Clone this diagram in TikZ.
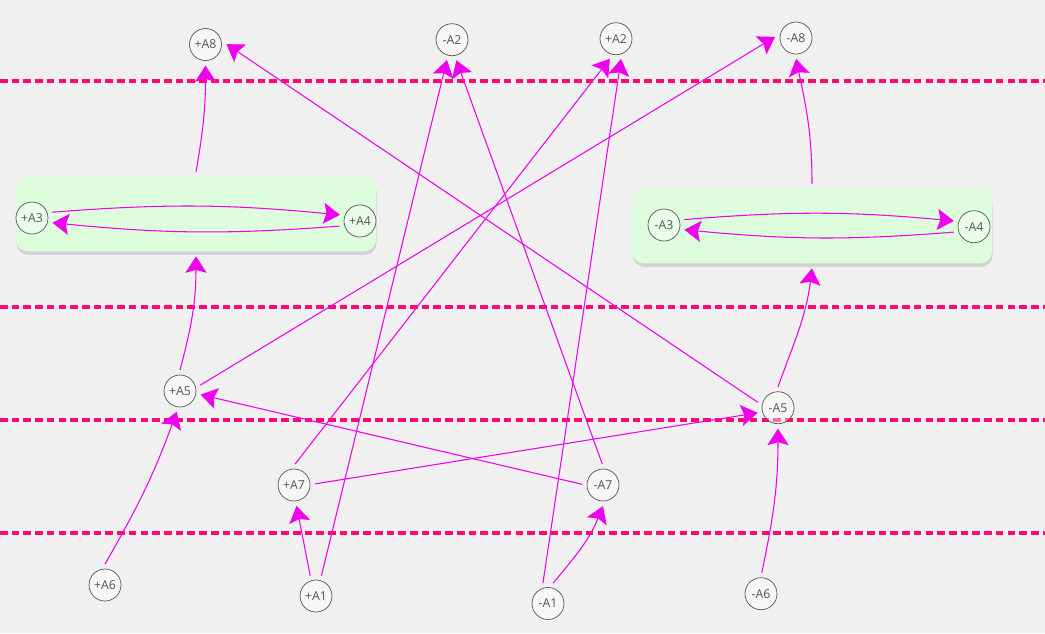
\documentclass[tikz,border=0pt]{standalone}
\usepackage{fontspec}
\setmainfont{Open Sans}
\usepackage{xcolor}
\usepackage{tikz}
\usetikzlibrary{arrows.meta}
\usetikzlibrary{shadows}
\definecolor{bgcol}{HTML}{F0F0F0}
\definecolor{boxcol}{HTML}{DDFDDD}
\definecolor{linkcol}{HTML}{EE00EE}
\definecolor{dashcol}{HTML}{FF0A6E}
\definecolor{ringcol}{HTML}{555555}

\begin{document}
\begin{tikzpicture}[x=0.03cm,y=0.03cm,
		atom/.style={circle,draw=ringcol,line width=0.6pt,fill=white,fill opacity=0.4,text opacity=1,text=ringcol,minimum size=0.96cm,inner sep=0pt,outer sep=4.25pt,font=\fontsize{10.5}{12}\selectfont},
		group/.style={rectangle,rounded corners=10pt,fill=boxcol,minimum width=10.8cm,minimum height=2.24cm,outer sep=4.25pt,drop shadow={shadow xshift=0.5pt,shadow yshift=-3pt,opacity=0.25}},
		link/.style={-{Stealth[length=14pt,width=18pt,inset=2.5pt]},linkcol,line width=0.9pt},
		divider/.style={dashcol,line width=3pt,dash pattern=on 6.5pt off 3.5pt}]
		\fill[bgcol] (0,0) rectangle (1045,-633);
		\useasboundingbox (0,0) rectangle (1045,-633);
		% separators
		\draw[divider] (0,-81) -- (1045,-81);
		\draw[divider] (0,-307) -- (1045,-307);
		\draw[divider] (0,-420) -- (1045,-420);
		\draw[divider] (0,-533) -- (1045,-533);
		% groups
		\node[group] (lbox) at (196,-214) {};
		\node[group] (rbox) at (812,-226) {};
		% atoms
		\node[atom] (pA8) at (205.5,-44.5) {+A8};
		\node[atom] (mA2) at (452,-39.7) {-A2};
		\node[atom] (pA2) at (616,-38.7) {+A2};
		\node[atom] (mA8) at (796,-38) {-A8};
		\node[atom] (pA3) at (32,-218) {+A3};
		\node[atom] (pA4) at (360,-221) {+A4};
		\node[atom] (mA3) at (664,-225) {-A3};
		\node[atom] (mA4) at (974,-226.7) {-A4};
		\node[atom] (pA5) at (180,-391) {+A5};
		\node[atom] (mA5) at (778,-407.7) {-A5};
		\node[atom] (pA7) at (294,-485) {+A7};
		\node[atom] (mA7) at (603,-485) {-A7};
		\node[atom] (pA6) at (105,-585) {+A6};
		\node[atom] (pA1) at (316,-596) {+A1};
		\node[atom] (mA1) at (548,-603.5) {-A1};
		\node[atom] (mA6) at (761,-593.7) {-A6};
		% links
		\draw[link] (lbox.north) to[out=80,in=-90] (pA8.south);
		\draw[link] (pA5.north) to[out=75,in=-90] (lbox.south);
		\draw[link] (pA3.16) to[bend left=5] (pA4.163);
		\draw[link] (pA4.-166) to[bend left=5] (pA3.-13);
		\draw[link] (mA3.15) to[bend left=5] (mA4.164);
		\draw[link] (mA4.-165) to[bend left=5] (mA3.-13);
		\draw[link] (rbox.north) to[out=90,in=-78] (mA8.south);
		\draw[link] (mA5.north) to[out=70,in=-97] (rbox.south);
		\draw[link] (mA5.165) -- (pA8.1);
		\draw[link] (pA5.16) -- (mA8.177);
		\draw[link] (mA7.178) -- (pA5.-10);
		\draw[link] (pA7.3) -- (mA5.-166);
		\draw[link] (pA7.87) -- (pA2.-107);
		\draw[link] (pA1.75) -- (mA2.-104);
		\draw[link] (pA1.106) -- (pA7.-83);
		\draw[link] (mA7.92) -- (mA2.-78);
		\draw[link] (mA1.104) -- (pA2.-76);
		\draw[link] (mA1.76) to[out=50,in=-112] (mA7.south);
		\draw[link] (pA6.north) to[out=60,in=-110] (pA5.-99);
		\draw[link] (mA6.88) to[out=78,in=-90] (mA5.south);
	\end{tikzpicture}
\end{document}
